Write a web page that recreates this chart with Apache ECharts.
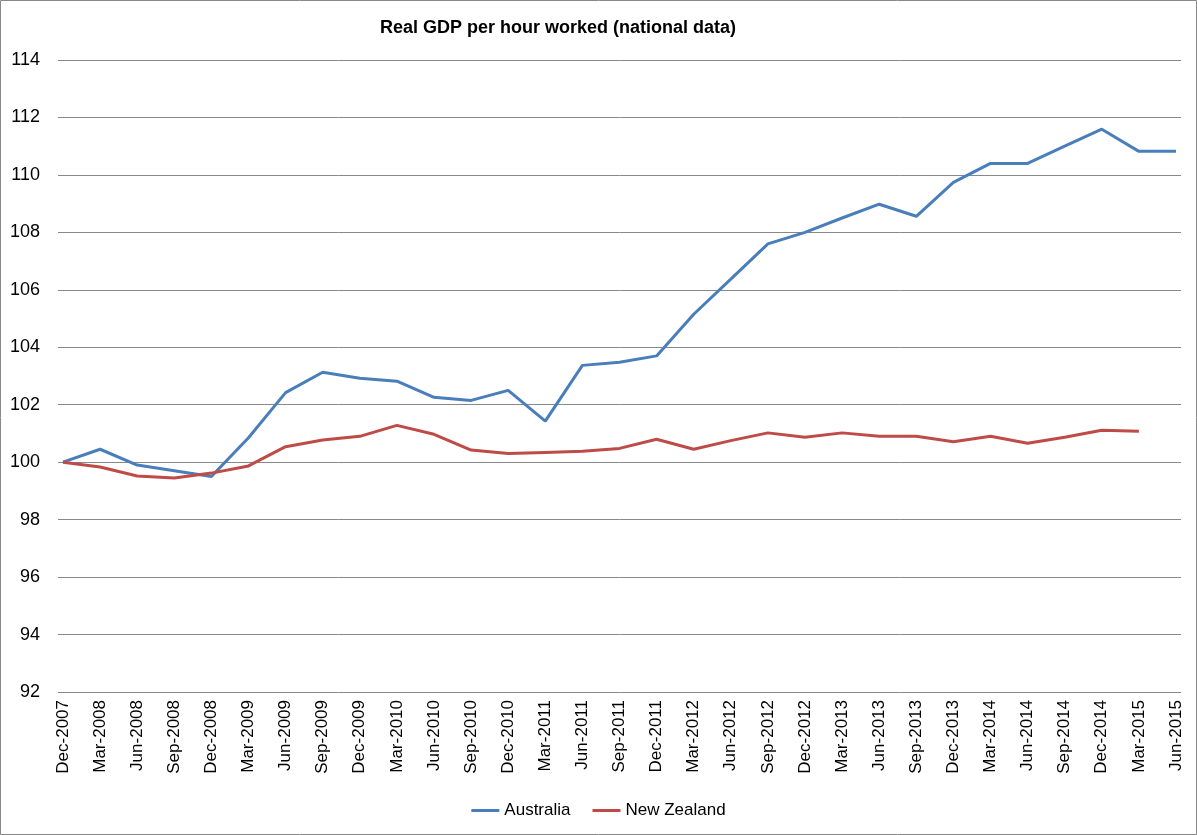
<!DOCTYPE html>
<html>
<head>
<meta charset="utf-8">
<script src="https://cdn.jsdelivr.net/npm/echarts@6/dist/echarts.min.js"></script>
<style>html,body{margin:0;padding:0;background:#fff}#c{width:1197px;height:835px}</style>
</head>
<body>
<div id="c"></div>
<script>
const categories = ["Dec-2007","Mar-2008","Jun-2008","Sep-2008","Dec-2008","Mar-2009","Jun-2009","Sep-2009","Dec-2009","Mar-2010","Jun-2010","Sep-2010","Dec-2010","Mar-2011","Jun-2011","Sep-2011","Dec-2011","Mar-2012","Jun-2012","Sep-2012","Dec-2012","Mar-2013","Jun-2013","Sep-2013","Dec-2013","Mar-2014","Jun-2014","Sep-2014","Dec-2014","Mar-2015","Jun-2015"];
const australia = [100,100.45,99.9,99.7,99.5,100.85,102.42,103.13,102.92,102.82,102.26,102.15,102.5,101.43,103.37,103.48,103.7,105.15,106.37,107.6,108.0,108.5,108.98,108.56,109.74,110.4,110.4,111.0,111.59,110.82,110.82];
const newZealand = [100,99.83,99.52,99.45,99.62,99.87,100.54,100.77,100.9,101.28,100.97,100.42,100.3,100.34,100.38,100.48,100.8,100.45,100.75,101.02,100.87,101.02,100.9,100.9,100.71,100.9,100.66,100.87,101.11,101.08,null];
const yTicks = [92,94,96,98,100,102,104,106,108,110,112,114];

const font = '"Liberation Sans", Arial, sans-serif';
const chart = echarts.init(document.getElementById('c'), null, {renderer:'canvas'});
chart.setOption({
  backgroundColor:'#fff',
  animation:false,
  title:{text:'Real GDP per hour worked (national data)',left:375,top:14,
    textStyle:{fontFamily:font,fontSize:18,fontWeight:'bold',color:'#000'}},
  legend:{bottom:11,left:'center',itemWidth:28,itemHeight:3,itemGap:22,icon:'rect',
    textStyle:{fontFamily:font,fontSize:17,color:'#000'},
    data:['Australia','New Zealand']},
  graphic:[{type:'rect',shape:{x:0.5,y:0.5,width:1196,height:834},style:{fill:null,stroke:'#888',lineWidth:1},silent:true}],
  grid:[
    {left:58,right:16,top:60,bottom:143,containLabel:false},
    {left:63,right:21,top:60,bottom:143,containLabel:false}
  ],
  xAxis:[
    {gridIndex:0,type:'value',min:0,max:1,show:false},
    {gridIndex:1,type:'category',data:categories,boundaryGap:false,
      axisLine:{show:false},axisTick:{show:false},
      axisLabel:{rotate:90,margin:8,interval:0,fontFamily:font,fontSize:17,color:'#000'}}
  ],
  yAxis:[
    {gridIndex:0,type:'value',min:yTicks[0],max:yTicks[yTicks.length-1],interval:2,
      axisLine:{show:false},axisTick:{show:false},
      axisLabel:{margin:18,fontFamily:font,fontSize:18,color:'#000'},
      splitLine:{lineStyle:{color:'#888',width:1}}},
    {gridIndex:1,type:'value',min:yTicks[0],max:yTicks[yTicks.length-1],interval:2,show:false,splitLine:{show:false}}
  ],
  series:[
    {name:'Australia',type:'line',xAxisIndex:1,yAxisIndex:1,data:australia,symbol:'none',
      lineStyle:{color:'#4A7EBB',width:3},itemStyle:{color:'#4A7EBB'}},
    {name:'New Zealand',type:'line',xAxisIndex:1,yAxisIndex:1,data:newZealand,symbol:'none',
      lineStyle:{color:'#BE4B48',width:3},itemStyle:{color:'#BE4B48'}}
  ]
});
</script>
</body>
</html>
